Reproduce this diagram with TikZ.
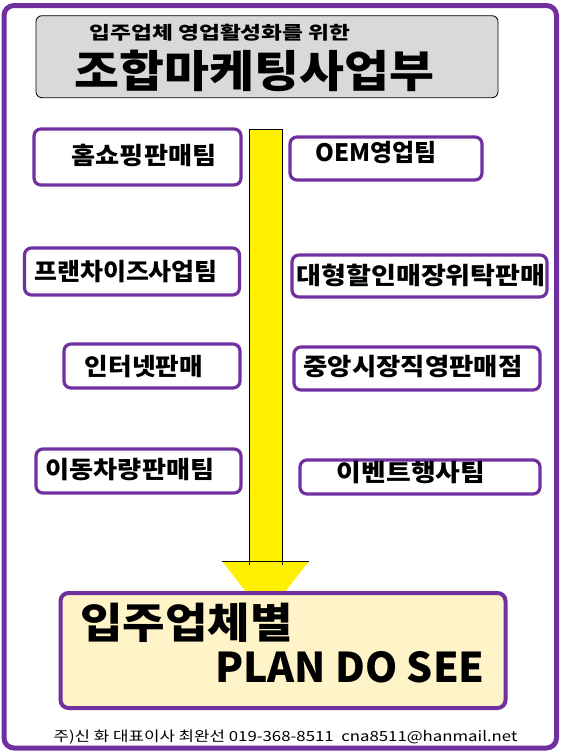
\documentclass[tikz,border=0pt]{standalone}
\usepackage{fontspec}
\newfontfamily\kr{Noto Sans CJK KR}
\definecolor{purp}{HTML}{7030A0}
\definecolor{titlegray}{HTML}{D9D9D9}
\definecolor{arrowyellow}{HTML}{FFF000}
\definecolor{paleyellow}{HTML}{FFF4C8}
\newcommand{\hs}[2]{\scalebox{#1}[1]{#2}}
\begin{document}
\begin{tikzpicture}[x=1pt,y=-1pt,
  outerframe/.style={draw=purp, line width=5pt, rounded corners=10pt},
  titlebox/.style={draw=black, line width=0.8pt, rounded corners=6pt, fill=titlegray, inner sep=0pt},
  team/.style={draw=purp, line width=3.2pt, rounded corners=7pt, fill=white, inner sep=0pt},
  teamtext/.style={font=\kr\bfseries\fontsize{24}{24}\selectfont, inner sep=0pt},
  planbox/.style={draw=purp, line width=4pt, rounded corners=8pt, fill=paleyellow, inner sep=0pt},
  bigtext/.style={font=\kr\bfseries\fontsize{42}{42}\selectfont, inner sep=0pt},
  foot/.style={font=\kr\fontsize{14}{14}\selectfont, inner sep=0pt}]
\useasboundingbox (0,0) rectangle (563,755);
\fill[white] (0,0) rectangle (563,755);
\draw[outerframe] (4,5.5) rectangle (556.5,748);

% title
\node[titlebox, minimum width=462pt, minimum height=82pt] (title) at (267,56.7) {};
\node[font=\kr\bfseries\fontsize{18}{18}\selectfont, inner sep=0pt] (sub) at (220,33) {\hs{1.26}{입주업체 영업활성화를 위한}};
\node[font=\kr\bfseries\fontsize{44}{44}\selectfont, inner sep=0pt] (main) at (254.5,71) {\hs{1.11}{조합마케팅사업부}};

% yellow arrow
\fill[arrowyellow] (249,129) rectangle (282,565);
\draw[black, line width=0.6pt] (249,565) -- (249,129) -- (282,129) -- (282,565);
\fill[arrowyellow] (222,561) -- (309,561) -- (265.5,617) -- cycle;
\draw[black, line width=0.6pt] (222,561) -- (309,561);
\draw[black, line width=0.6pt] (249,561) -- (249,565) (282,561) -- (282,565);

% left boxes
\node[team, minimum width=207pt, minimum height=56pt] (b1) at (137.5,157) {};
\node[teamtext] (t1) at (144,155) {\hs{1.09}{홈쇼핑판매팀}};
\node[team, minimum width=215pt, minimum height=47pt] (b3) at (132,271.5) {};
\node[teamtext] (t3) at (126,272) {\hs{1.04}{프랜차이즈사업팀}};
\node[team, minimum width=176pt, minimum height=44pt] (b5) at (152,366) {};
\node[teamtext] (t5) at (144,367) {\hs{1.07}{인터넷판매}};
\node[team, minimum width=205pt, minimum height=44pt] (b7) at (138.5,471) {};
\node[teamtext] (t7) at (130,470) {\hs{1.09}{이동차량판매팀}};

% right boxes
\node[team, minimum width=192pt, minimum height=43pt] (b2) at (386,158.5) {};
\node[teamtext] (t2) at (376,153) {OEM영업팀};
\node[team, minimum width=255pt, minimum height=42pt] (b4) at (419.5,276) {};
\node[teamtext] (t4) at (421,275) {\hs{1.13}{대형할인매장위탁판매}};
\node[team, minimum width=246pt, minimum height=43pt] (b6) at (417,368.5) {};
\node[teamtext] (t6) at (413,367) {\hs{1.1}{중앙시장직영판매점}};
\node[team, minimum width=240pt, minimum height=34pt] (b8) at (420,477) {};
\node[teamtext] (t8) at (411,473) {\hs{1.12}{이벤트행사팀}};

% plan box
\node[planbox, minimum width=445pt, minimum height=115pt] (plan) at (283,650.5) {};
\node[bigtext] (p1) at (186.5,623) {\hs{1.1}{입주업체별}};
\node[bigtext, font=\kr\bfseries\fontsize{41}{41}\selectfont] (p2) at (350,667) {PLAN DO SEE};

% footer
\node[foot] (footer) at (285.5,737) {\hs{1.2}{주)신 화 대표이사 최완선 019-368-8511\ \ cna8511@hanmail.net}};
\end{tikzpicture}
\end{document}
